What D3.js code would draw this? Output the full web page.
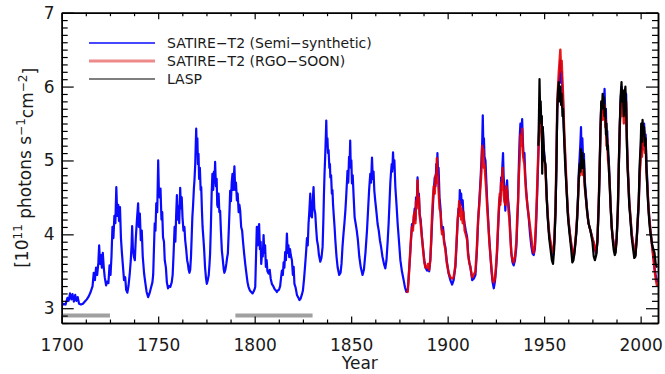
<!DOCTYPE html>
<html>
<head>
<meta charset="utf-8">
<script src="https://cdn.jsdelivr.net/npm/d3@7"></script>
<style>
  html, body { margin: 0; padding: 0; background: #fff; }
  svg { display: block; }
</style>
</head>
<body>
<div id="chart"></div>
<script>
// [year, 10^11 photons s^-1 cm^-2]
const semiSynthetic = [
  [1700,3.04],[1701,3.06],[1702,3.05],[1703,3.14],[1703.6,3.10],[1704.3,3.20],[1705,3.12],[1705.6,3.19],
  [1706.3,3.09],[1707,3.18],[1707.6,3.10],[1708.3,3.15],[1709,3.06],[1710,3.05],[1711,3.06],[1712,3.09],
  [1713,3.12],[1714,3.16],[1715,3.22],[1716,3.30],[1716.6,3.48],[1717.2,3.38],[1717.8,3.55],[1718.4,3.45],
  [1719,3.62],[1719.4,3.85],[1719.9,3.60],[1720.4,3.72],[1720.8,3.55],[1721.3,3.75],[1721.8,3.55],[1722.3,3.42],
  [1723,3.31],[1723.6,3.36],[1724.2,3.34],[1724.8,3.58],[1725.3,3.45],[1725.8,3.70],[1726.3,4.10],[1726.8,3.95],
  [1727.3,4.25],[1727.8,4.15],[1728.3,4.64],[1728.8,4.25],[1729.3,4.40],[1729.7,4.18],[1730.2,4.37],[1730.7,3.95],
  [1731.2,3.75],[1731.8,3.55],[1732.3,3.38],[1732.9,3.42],[1733.4,3.25],[1734,3.21],[1734.6,3.30],[1735.2,3.45],
  [1735.8,3.65],[1736.2,3.85],[1736.5,4.11],[1736.9,3.80],[1737.4,3.70],[1737.9,3.65],[1738.4,3.95],[1739,4.20],
  [1739.6,4.42],[1740,4.10],[1740.5,4.28],[1741,3.92],[1741.5,4.05],[1742,3.70],[1742.7,3.47],[1743.3,3.35],
  [1744,3.22],[1744.8,3.15],[1745.5,3.20],[1746.3,3.28],[1747,3.35],[1747.4,3.45],[1747.8,3.80],[1748.2,4.15],
  [1748.6,4.05],[1749,4.42],[1749.5,4.30],[1750,5.00],[1750.4,4.55],[1750.8,4.50],[1751.2,4.62],[1751.7,4.20],
  [1752.1,4.30],[1752.5,3.96],[1753,3.90],[1753.4,3.65],[1754,3.55],[1754.5,3.35],[1755.1,3.27],[1755.7,3.30],
  [1756.3,3.29],[1757,3.35],[1757.5,3.45],[1758,3.75],[1758.5,4.10],[1758.9,3.90],[1759.3,4.25],[1759.7,4.53],
  [1760.1,4.20],[1760.5,4.38],[1760.9,4.15],[1761.4,4.63],[1761.8,4.35],[1762.2,4.50],[1762.6,4.23],[1763.1,4.05],
  [1763.6,4.10],[1764,3.92],[1764.5,3.80],[1765,3.65],[1765.4,3.60],[1765.8,3.52],[1766.2,3.48],[1766.6,3.52],
  [1767,3.70],[1767.4,4.00],[1767.7,4.23],[1768.1,4.40],[1768.5,4.62],[1768.8,4.73],[1769.2,4.95],[1769.5,5.25],
  [1769.7,5.43],[1770,5.10],[1770.3,5.30],[1770.6,4.95],[1770.9,5.09],[1771.2,4.75],[1771.6,4.90],[1772,4.60],
  [1772.3,4.64],[1772.7,4.30],[1773,4.10],[1773.4,3.96],[1773.8,3.80],[1774.3,3.55],[1774.8,3.40],[1775.2,3.33],
  [1775.7,3.38],[1776.2,3.45],[1776.6,3.60],[1776.9,3.74],[1777.3,4.10],[1777.7,4.55],[1778.1,4.82],[1778.5,4.60],
  [1778.9,4.85],[1779.2,4.70],[1779.5,4.98],[1779.9,4.65],[1780.3,4.75],[1780.6,4.40],[1780.9,4.37],[1781.3,4.55],
  [1781.7,4.30],[1782.1,4.32],[1782.5,4.05],[1783,3.78],[1783.5,3.65],[1784,3.52],[1784.3,3.48],[1784.8,3.52],
  [1785.3,3.60],[1785.7,3.68],[1786.1,3.74],[1786.5,4.00],[1787,4.35],[1787.3,4.59],[1787.7,4.45],[1788.1,4.70],
  [1788.5,4.82],[1788.9,4.60],[1789.2,4.75],[1789.5,4.92],[1789.9,4.60],[1790.3,4.70],[1790.8,4.46],[1791.2,4.55],
  [1791.7,4.30],[1792.1,4.40],[1792.5,4.32],[1793,4.10],[1793.5,4.05],[1793.9,3.92],[1794.5,3.75],[1795.1,3.60],
  [1795.8,3.45],[1796.3,3.35],[1796.8,3.29],[1797.5,3.24],[1798.2,3.22],[1798.9,3.20],[1799.5,3.23],[1800,3.26],
  [1800.3,3.29],[1800.7,3.70],[1801.1,4.10],[1801.5,3.85],[1801.9,4.05],[1802.3,4.14],[1802.7,3.80],[1803.1,3.90],
  [1803.4,3.60],[1803.8,3.75],[1804.2,3.70],[1804.6,3.99],[1805,3.75],[1805.4,3.85],[1805.8,3.56],[1806.2,3.65],
  [1806.6,3.50],[1807.2,3.47],[1807.8,3.52],[1808.3,3.40],[1808.9,3.33],[1809.6,3.30],[1810.3,3.26],[1811,3.24],
  [1811.5,3.22],[1812,3.24],[1812.6,3.25],[1813.2,3.30],[1813.7,3.42],[1814.1,3.51],[1814.6,3.45],[1815,3.62],
  [1815.4,3.55],[1815.8,3.76],[1816.2,3.65],[1816.7,4.01],[1817.1,3.75],[1817.5,3.85],[1817.9,3.69],[1818.3,3.80],
  [1818.7,3.72],[1819.3,3.65],[1819.8,3.45],[1820.2,3.56],[1820.6,3.33],[1821.2,3.28],[1821.9,3.18],[1822.5,3.15],
  [1823.2,3.11],[1823.8,3.13],[1824.4,3.18],[1825,3.24],[1825.6,3.40],[1826.2,3.60],[1826.7,3.78],[1827.1,3.95],
  [1827.5,3.85],[1827.9,4.14],[1828.3,4.30],[1828.8,4.55],[1829.2,4.25],[1829.7,4.23],[1830.1,4.45],[1830.5,4.64],
  [1830.9,4.35],[1831.4,4.28],[1831.8,4.10],[1832.3,3.92],[1832.8,3.85],[1833.3,3.72],[1834,3.63],[1834.6,3.68],
  [1835.2,3.83],[1835.6,4.20],[1835.9,4.55],[1836.2,4.82],[1836.6,5.10],[1836.9,5.35],[1837.1,5.54],[1837.4,5.20],
  [1837.7,5.30],[1838,5.10],[1838.3,5.14],[1838.7,4.90],[1839,4.95],[1839.2,4.77],[1839.6,4.80],[1840,4.55],
  [1840.3,4.60],[1840.6,4.41],[1841,4.25],[1841.4,4.10],[1841.8,3.92],[1842.4,3.70],[1843,3.55],[1843.8,3.45],
  [1844.5,3.48],[1845,3.60],[1845.5,3.83],[1846,4.00],[1846.5,4.15],[1847,4.32],[1847.4,4.50],[1847.8,4.70],
  [1848.1,4.86],[1848.5,4.70],[1848.9,5.05],[1849.2,4.95],[1849.5,5.27],[1849.8,4.90],[1850.1,5.00],[1850.4,4.69],
  [1850.8,4.80],[1851.3,4.50],[1851.8,4.23],[1852.3,4.15],[1852.9,4.05],[1853.5,3.92],[1854.2,3.70],[1855,3.55],
  [1855.9,3.45],[1856.6,3.52],[1857.4,3.75],[1858.2,4.05],[1858.8,4.35],[1859.3,4.60],[1859.9,4.82],[1860.3,4.70],
  [1860.8,5.04],[1861.2,4.75],[1861.6,4.85],[1862,4.59],[1862.5,4.45],[1863.1,4.30],[1863.7,4.14],[1864.3,4.05],
  [1864.9,3.92],[1865.5,3.83],[1866.2,3.70],[1867,3.60],[1867.7,3.54],[1868.3,3.65],[1868.9,3.90],[1869.4,4.14],
  [1869.9,4.45],[1870.3,4.70],[1870.6,4.82],[1871,4.95],[1871.3,4.85],[1871.7,5.11],[1872,4.90],[1872.4,5.00],
  [1872.9,4.64],[1873.5,4.40],[1874.1,4.14],[1874.8,3.90],[1875.5,3.65],[1876.3,3.50],[1877.2,3.38],[1877.9,3.28],
  [1878.6,3.22],[1879.3,3.24],[1879.8,3.42],[1880.5,3.70],[1881,3.92],[1881.5,4.14],[1882,4.10],[1882.4,4.19],
  [1882.9,4.35],[1883.3,4.20],[1883.6,4.50],[1884,4.40],[1884.4,4.77],[1884.8,4.45],[1885.1,4.55],[1885.5,4.28],
  [1886,4.20],[1886.3,4.10],[1886.7,3.96],[1887.3,3.80],[1887.9,3.65],[1888.5,3.55],[1889.3,3.51],[1889.8,3.53],
  [1890.4,3.50],[1891,3.65],[1891.5,3.90],[1891.9,4.14],[1892.4,4.40],[1892.8,4.60],[1893.3,4.77],[1893.7,4.65],
  [1894.1,4.95],[1894.4,4.80],[1894.7,5.10],[1895,4.85],[1895.3,4.90],[1895.8,4.50],[1896.3,4.35],[1896.7,4.15],
  [1897.1,4.05],[1897.6,4.10],[1898.2,3.90],[1898.8,3.83],[1899.5,3.65],[1900.5,3.47],[1901.4,3.38],[1902.3,3.32],
  [1903.1,3.38],[1904,3.56],[1904.6,3.85],[1905.2,4.19],[1905.6,4.35],[1906,4.30],[1906.3,4.60],[1906.6,4.45],
  [1907,4.55],[1907.3,4.40],[1907.8,4.46],[1908.2,4.25],[1908.8,4.14],[1909.4,4.05],[1910.1,3.96],[1910.6,3.75],
  [1911.2,3.62],[1911.8,3.56],[1912.7,3.38],[1913.5,3.40],[1914.4,3.45],[1915.1,3.75],[1915.8,4.19],[1916.4,4.45],
  [1917,4.73],[1917.5,5.00],[1917.9,5.25],[1918.2,5.61],[1918.5,5.20],[1918.8,5.30],[1919.1,5.05],[1919.6,5.00],
  [1920,4.75],[1920.4,4.50],[1921,4.20],[1921.6,3.92],[1922.2,3.70],[1922.7,3.51],[1923.3,3.35],[1923.9,3.27],
  [1924.5,3.36],[1925,3.50],[1925.6,3.74],[1926,4.00],[1926.5,4.28],[1927,4.50],[1927.3,4.45],[1927.7,4.77],
  [1928,4.70],[1928.4,4.95],[1928.7,5.10],[1929,4.80],[1929.4,4.60],[1929.9,4.32],[1930.3,4.55],[1930.8,4.73],
  [1931.2,4.50],[1931.6,4.40],[1932,4.28],[1932.5,4.00],[1933,3.74],[1933.6,3.62],[1934.2,3.58],[1934.9,3.65],
  [1935.6,3.83],[1936,4.10],[1936.5,4.46],[1936.9,4.95],[1937.3,5.30],[1937.7,5.50],[1938.1,5.35],[1938.6,5.56],
  [1939,5.25],[1939.4,5.04],[1939.8,5.10],[1940.2,4.80],[1940.7,4.59],[1941.3,4.40],[1942,4.23],[1942.7,4.00],
  [1943.4,3.83],[1944,3.74],[1944.6,3.72],[1945.2,3.80],[1945.8,4.10],[1946.4,4.55],[1946.9,5.00],[1947.3,5.35],
  [1947.7,5.65],[1948.1,5.50],[1948.5,5.60],[1948.9,5.35],[1949.3,5.45],[1949.7,5.20],[1950.2,5.05],[1950.7,4.91],
  [1951.3,4.55],[1951.9,4.23],[1952.6,4.00],[1953.3,3.87],[1954,3.75],[1954.7,3.72],[1955.3,3.90],[1955.9,4.32],
  [1956.4,4.95],[1956.8,5.70],[1957.2,5.85],[1957.6,6.05],[1958,6.15],[1958.4,6.35],[1958.8,6.05],[1959.1,6.20],
  [1959.5,5.95],[1959.8,5.80],[1960.2,5.45],[1960.8,5.10],[1961.3,4.80],[1961.8,4.55],[1962.3,4.30],[1962.8,4.14],
  [1963.4,4.00],[1964,3.87],[1964.7,3.75],[1965.4,3.70],[1966,3.85],[1966.6,4.00],[1967.1,4.23],[1967.6,4.55],
  [1968,4.86],[1968.4,5.05],[1968.8,5.25],[1969.1,5.45],[1969.4,5.10],[1969.8,5.30],[1970.2,5.00],[1970.6,5.09],
  [1971,4.75],[1971.6,4.55],[1972.3,4.32],[1973,4.15],[1974,4.05],[1975,3.95],[1975.8,3.87],[1976.5,3.78],
  [1977,3.74],[1977.6,3.90],[1978.3,4.41],[1978.8,4.90],[1979.2,5.40],[1979.6,5.77],[1980,5.80],[1980.3,5.65],
  [1980.7,5.90],[1981,5.75],[1981.3,5.97],[1981.7,5.60],[1982,5.70],[1982.3,5.31],[1982.7,5.40],[1983.1,5.10],
  [1983.5,5.00],[1984,4.70],[1984.4,4.41],[1985,4.10],[1985.6,3.95],[1986.1,3.87],[1986.6,3.80],[1987,3.78],
  [1987.6,3.95],[1988.2,4.32],[1988.7,4.90],[1989.2,5.45],[1989.6,5.80],[1990.1,6.00],[1990.4,5.75],[1990.8,5.90],
  [1991.3,5.63],[1991.7,5.85],[1992.1,5.70],[1992.5,5.90],[1992.9,5.30],[1993.3,4.95],[1993.6,4.77],[1994.1,4.45],
  [1994.7,4.23],[1995.4,4.00],[1996.1,3.87],[1996.7,3.78],[1997.3,3.72],[1998,3.95],[1998.6,4.20],[1999,4.40],
  [1999.5,4.85],[2000,5.10],[2000.3,5.35],[2000.7,5.15],[2001,5.45],[2001.4,5.30],[2001.8,5.50],[2002.2,5.25],
  [2002.6,5.35],[2003,4.95],[2003.4,4.77],[2003.9,4.45],[2004.4,4.25],[2004.9,4.10],[2005.5,3.95],[2006,3.85],
  [2006.6,3.70],[2007.2,3.55],[2007.8,3.45],[2008.5,3.35]
];

const rgoSoon = [
  [1878.6,3.24],[1879.3,3.22],[1879.8,3.40],[1880.5,3.72],[1881,3.95],[1881.5,4.10],[1882,4.05],[1882.4,4.25],
  [1882.9,4.30],[1883.3,4.15],[1883.6,4.45],[1884,4.35],[1884.4,4.73],[1884.8,4.40],[1885.1,4.50],[1885.5,4.25],
  [1886,4.15],[1886.3,4.05],[1886.7,3.95],[1887.3,3.78],[1887.9,3.62],[1888.5,3.55],[1889.3,3.55],[1889.8,3.60],
  [1890.4,3.52],[1891,3.65],[1891.5,3.95],[1891.9,4.25],[1892.4,4.50],[1892.8,4.65],[1893.3,4.55],[1893.7,4.80],
  [1894.1,4.70],[1894.4,5.03],[1894.7,4.85],[1895,4.75],[1895.3,4.60],[1895.8,4.35],[1896.3,4.30],[1896.7,4.10],
  [1897.1,4.00],[1897.6,4.05],[1898.2,3.88],[1898.8,3.80],[1899.5,3.62],[1900.5,3.48],[1901.4,3.42],[1902.3,3.40],
  [1903.1,3.42],[1904,3.58],[1904.6,3.90],[1905.2,4.20],[1905.6,4.30],[1906,4.45],[1906.3,4.25],[1906.6,4.40],
  [1907,4.20],[1907.3,4.35],[1907.8,4.15],[1908.2,4.30],[1908.8,4.05],[1909.4,4.00],[1910.1,3.92],[1910.6,3.72],
  [1911.2,3.62],[1911.8,3.55],[1912.7,3.42],[1913.5,3.45],[1914.4,3.50],[1915.1,3.80],[1915.8,4.20],[1916.4,4.40],
  [1917,4.65],[1917.5,4.85],[1917.9,5.20],[1918.2,5.05],[1918.5,5.15],[1918.8,4.90],[1919.1,4.95],[1919.6,4.75],
  [1920,4.60],[1920.4,4.40],[1921,4.15],[1921.6,3.90],[1922.2,3.70],[1922.7,3.55],[1923.3,3.38],[1923.9,3.35],
  [1924.5,3.40],[1925,3.55],[1925.6,3.80],[1926,4.05],[1926.5,4.35],[1927,4.55],[1927.3,4.40],[1927.7,4.70],
  [1928,4.60],[1928.4,4.90],[1928.7,4.70],[1929,4.55],[1929.4,4.45],[1929.9,4.40],[1930.3,4.65],[1930.8,4.60],
  [1931.2,4.45],[1931.6,4.30],[1932,4.20],[1932.5,3.95],[1933,3.75],[1933.6,3.65],[1934.2,3.62],[1934.9,3.70],
  [1935.6,3.90],[1936,4.20],[1936.5,4.45],[1936.9,4.80],[1937.3,5.00],[1937.7,5.35],[1938.1,5.20],[1938.6,5.43],
  [1939,5.10],[1939.4,5.00],[1939.8,4.95],[1940.2,4.75],[1940.7,4.55],[1941.3,4.40],[1942,4.25],[1942.7,4.10],
  [1943.4,3.95],[1944,3.80],[1944.6,3.75],[1945.2,3.85],[1945.8,4.20],[1946.4,4.65],[1946.9,5.05],[1947.3,5.30],
  [1947.7,5.55],[1948.1,5.40],[1948.5,5.50],[1948.9,5.25],[1949.3,5.35],[1949.7,5.10],[1950.2,5.00],[1950.7,4.85],
  [1951.3,4.50],[1951.9,4.25],[1952.6,4.02],[1953.3,3.90],[1954,3.78],[1954.7,3.75],[1955.3,3.95],[1955.9,4.40],
  [1956.4,5.10],[1956.8,5.80],[1957.2,6.00],[1957.6,6.20],[1958,6.35],[1958.4,6.50],[1958.8,6.20],[1959.1,6.35],
  [1959.5,6.05],[1959.8,5.90],[1960.2,5.55],[1960.8,5.15],[1961.3,4.85],[1961.8,4.55],[1962.3,4.30],[1962.8,4.15],
  [1963.4,4.00],[1964,3.88],[1964.7,3.75],[1965.4,3.70],[1966,3.85],[1966.6,4.05],[1967.1,4.25],[1967.6,4.50],
  [1968,4.75],[1968.4,4.90],[1968.8,4.80],[1969.1,5.00],[1969.4,4.85],[1969.8,4.95],[1970.2,4.80],[1970.6,4.90],
  [1971,4.65],[1971.6,4.50],[1972.3,4.30],[1973,4.15],[1974,4.05],[1975,3.95],[1975.8,3.88],[1976.5,3.80],
  [1977,3.75],[1977.6,3.92],[1978.3,4.45],[1978.8,4.95],[1979.2,5.40],[1979.6,5.70],[1980,5.80],[1980.3,5.55],
  [1980.7,5.80],[1981,5.60],[1981.3,5.75],[1981.7,5.45],[1982,5.55],[1982.3,5.20],[1982.7,5.30],[1983.1,5.00],
  [1983.5,4.95],[1984,4.65],[1984.4,4.40],[1985,4.10],[1985.6,3.95],[1986.1,3.85],[1986.6,3.78],[1987,3.76],
  [1987.6,3.95],[1988.2,4.35],[1988.7,4.95],[1989.2,5.45],[1989.6,5.70],[1990.1,5.90],[1990.4,5.60],[1990.8,5.85],
  [1991.3,5.50],[1991.7,5.75],[1992.1,5.55],[1992.5,5.80],[1992.9,5.25],[1993.3,4.90],[1993.6,4.75],[1994.1,4.45],
  [1994.7,4.25],[1995.4,4.00],[1996.1,3.88],[1996.7,3.78],[1997.3,3.72],[1998,3.95],[1998.6,4.25],[1999,4.40],
  [1999.5,4.80],[2000,5.00],[2000.3,5.25],[2000.7,5.05],[2001,5.35],[2001.4,5.15],[2001.8,5.40],[2002.2,5.10],
  [2002.6,5.25],[2003,4.85],[2003.4,4.70],[2003.9,4.45],[2004.4,4.25],[2004.9,4.10],[2005.5,3.95],[2006,3.82],
  [2006.6,3.68],[2007.2,3.52],[2007.8,3.40],[2008.5,3.30]
];

const lasp = [
  [1947,5.20],[1947.3,5.60],[1947.6,6.10],[1947.9,5.70],[1948.2,5.80],[1948.5,5.50],[1948.8,5.60],[1949,4.82],
  [1949.3,5.45],[1949.7,5.20],[1950.2,5.00],[1950.7,4.95],[1951.3,4.50],[1951.9,4.20],[1952.6,3.95],[1953.3,3.80],
  [1954,3.65],[1954.6,3.60],[1955.2,3.80],[1955.9,4.30],[1956.4,5.00],[1956.8,5.70],[1957.2,5.95],[1957.6,6.06],
  [1958,5.80],[1958.4,6.00],[1958.8,5.75],[1959.1,5.90],[1959.5,5.60],[1959.8,5.70],[1960.2,5.40],[1960.8,5.00],
  [1961.3,4.75],[1961.8,4.50],[1962.3,4.25],[1962.8,4.10],[1963.4,3.95],[1964,3.80],[1964.6,3.62],[1965.2,3.65],
  [1966,3.82],[1966.6,4.00],[1967.1,4.20],[1967.6,4.50],[1968,4.80],[1968.4,4.95],[1968.8,4.85],[1969.1,5.15],
  [1969.4,4.90],[1969.8,5.10],[1970.2,4.90],[1970.6,5.00],[1971,4.70],[1971.6,4.50],[1972.3,4.30],[1973,4.15],
  [1974,4.05],[1975,3.90],[1975.7,3.70],[1976.3,3.65],[1977,3.72],[1977.6,3.90],[1978.3,4.40],[1978.8,4.95],
  [1979.2,5.45],[1979.6,5.80],[1980,5.70],[1980.3,5.90],[1980.7,5.75],[1981,5.85],[1981.3,5.60],[1981.7,5.70],
  [1982,5.35],[1982.3,5.50],[1982.7,5.15],[1983.1,5.20],[1983.5,4.90],[1984,4.65],[1984.4,4.40],[1985,4.10],
  [1985.6,3.90],[1986.1,3.78],[1986.6,3.72],[1987,3.75],[1987.6,3.95],[1988.2,4.35],[1988.7,4.95],[1989.2,5.50],
  [1989.6,5.85],[1990.1,6.06],[1990.4,5.80],[1990.8,5.95],[1991.3,5.60],[1991.7,5.90],[1992.1,6.00],[1992.5,5.70],
  [1992.9,5.20],[1993.3,4.85],[1993.6,4.70],[1994.1,4.40],[1994.7,4.20],[1995.4,3.95],[1996.1,3.80],[1996.7,3.68],
  [1997.3,3.70],[1998,3.95],[1998.6,4.25],[1999,4.45],[1999.5,4.95],[2000,5.20],[2000.3,5.50],[2000.7,5.25],
  [2001,5.55],[2001.4,5.35],[2001.8,5.45],[2002.2,5.20],[2002.6,5.30],[2003,4.90],[2003.4,4.65],[2003.9,4.40],
  [2004.4,4.20],[2004.9,4.05],[2005.5,3.95],[2006,3.85],[2006.6,3.80],[2007.2,3.75],[2007.8,3.60],[2008.5,3.55]
];

// grey bars: Maunder end and Dalton minimum
const minimaPeriods = [[1700, 1725], [1790, 1830]];
const minimaLevel = 2.9;

const xTicks = [1700, 1750, 1800, 1850, 1900, 1950, 2000];
const yTicks = [3, 4, 5, 6, 7];
const legendLabels = ['SATIRE\u2212T2 (Semi\u2212synthetic)', 'SATIRE\u2212T2 (RGO\u2212SOON)', 'LASP'];

const width = 665;
const height = 374;
const margin = { top: 12.7, right: 7, bottom: 51, left: 61.7 };
const font = "'DejaVu Sans', sans-serif";

const x = d3.scaleLinear().domain([1700, 2009]).range([margin.left, width - margin.right]);
const y = d3.scaleLinear().domain([2.8, 7]).range([height - margin.bottom, margin.top]);

const xMinor = d3.range(1700, 2009.01, 12.5).filter(v => !xTicks.includes(v));
const yMinor = d3.range(28, 71).map(v => v / 10).filter(v => !yTicks.includes(v));

const svg = d3.select('#chart')
  .append('svg')
  .attr('width', width)
  .attr('height', height)
  .attr('viewBox', `0 0 ${width} ${height}`);

svg.append('defs').append('clipPath').attr('id', 'plot')
  .append('rect')
  .attr('x', margin.left).attr('y', margin.top)
  .attr('width', width - margin.left - margin.right)
  .attr('height', height - margin.top - margin.bottom);

const line = d3.line()
  .x(d => x(d[0]))
  .y(d => y(d[1]))
  .curve(d3.curveLinear);

const plot = svg.append('g').attr('clip-path', 'url(#plot)');

plot.selectAll('line.minima')
  .data(minimaPeriods)
  .join('line')
  .attr('class', 'minima')
  .attr('x1', d => x(d[0]))
  .attr('x2', d => x(d[1]))
  .attr('y1', y(minimaLevel))
  .attr('y2', y(minimaLevel))
  .attr('stroke', '#a0a0a0')
  .attr('stroke-width', 4);

const series = [
  { data: semiSynthetic, color: '#0a0aff', w: 2.2, op: 1 },
  { data: rgoSoon, color: '#e80000', w: 2.4, op: 0.9 },
  { data: lasp, color: '#000000', w: 2.2, op: 1 }
];

plot.selectAll('path.series')
  .data(series)
  .join('path')
  .attr('class', 'series')
  .attr('fill', 'none')
  .attr('stroke', d => d.color)
  .attr('stroke-width', d => d.w)
  .attr('stroke-opacity', d => d.op)
  .attr('stroke-linejoin', 'round')
  .attr('d', d => line(d.data));

// axes, IDL style: ticks inward on all four sides
function styleAxis(g) {
  g.select('.domain').attr('stroke', '#000').attr('stroke-width', 1.5);
  g.selectAll('.tick line').attr('stroke', '#000').attr('stroke-width', 1.2);
  g.selectAll('text').attr('font-family', font).attr('font-size', 17).attr('fill', '#1a1a1a');
}

const bottom = height - margin.bottom;
const right = width - margin.right;

svg.append('g')
  .attr('transform', `translate(0,${bottom})`)
  .call(d3.axisBottom(x).tickValues(xTicks).tickFormat(d3.format('d'))
    .tickSizeInner(-6.5).tickSizeOuter(0).tickPadding(16))
  .call(styleAxis);
svg.append('g')
  .attr('transform', `translate(0,${bottom})`)
  .call(d3.axisBottom(x).tickValues(xMinor).tickFormat('').tickSizeInner(-3.5).tickSizeOuter(0))
  .call(styleAxis);
svg.append('g')
  .attr('transform', `translate(0,${margin.top})`)
  .call(d3.axisTop(x).tickValues(xTicks).tickFormat('').tickSizeInner(-6.5).tickSizeOuter(0))
  .call(styleAxis);
svg.append('g')
  .attr('transform', `translate(0,${margin.top})`)
  .call(d3.axisTop(x).tickValues(xMinor).tickFormat('').tickSizeInner(-3.5).tickSizeOuter(0))
  .call(styleAxis);

svg.append('g')
  .attr('transform', `translate(${margin.left},0)`)
  .call(d3.axisLeft(y).tickValues(yTicks).tickFormat(d3.format('d'))
    .tickSizeInner(-12).tickSizeOuter(0).tickPadding(7))
  .call(styleAxis);
svg.append('g')
  .attr('transform', `translate(${margin.left},0)`)
  .call(d3.axisLeft(y).tickValues(yMinor).tickFormat('').tickSizeInner(-6).tickSizeOuter(0))
  .call(styleAxis);
svg.append('g')
  .attr('transform', `translate(${right},0)`)
  .call(d3.axisRight(y).tickValues(yTicks).tickFormat('').tickSizeInner(-12).tickSizeOuter(0))
  .call(styleAxis);
svg.append('g')
  .attr('transform', `translate(${right},0)`)
  .call(d3.axisRight(y).tickValues(yMinor).tickFormat('').tickSizeInner(-6).tickSizeOuter(0))
  .call(styleAxis);

// axis titles
svg.append('text')
  .attr('x', (margin.left + right) / 2)
  .attr('y', 369)
  .attr('text-anchor', 'middle')
  .attr('font-family', font)
  .attr('font-size', 17)
  .attr('fill', '#1a1a1a')
  .text('Year');

const yTitle = svg.append('text')
  .attr('transform', `translate(28,${(margin.top + bottom) / 2}) rotate(-90)`)
  .attr('text-anchor', 'middle')
  .attr('font-family', font)
  .attr('font-size', 17)
  .attr('fill', '#1a1a1a');
yTitle.append('tspan').text('[10');
yTitle.append('tspan').attr('dy', '-0.5em').attr('font-size', 12).text('11');
yTitle.append('tspan').attr('dy', '0.5em').text(' photons s');
yTitle.append('tspan').attr('dy', '-0.5em').attr('font-size', 12).text('\u22121');
yTitle.append('tspan').attr('dy', '0.5em').text('cm');
yTitle.append('tspan').attr('dy', '-0.5em').attr('font-size', 12).text('\u22122');
yTitle.append('tspan').attr('dy', '0.5em').text(']');

// legend
const legendStyle = [
  { color: '#0a0aff', w: 1.5 },
  { color: '#ee8a8a', w: 3 },
  { color: '#000000', w: 1.2 }
];
const legend = svg.append('g').attr('transform', 'translate(89,43)');
const rows = legend.selectAll('g')
  .data(legendLabels)
  .join('g')
  .attr('transform', (d, i) => `translate(0,${i * 18})`);
rows.append('line')
  .attr('x1', 0).attr('x2', 66)
  .attr('stroke', (d, i) => legendStyle[i].color)
  .attr('stroke-width', (d, i) => legendStyle[i].w);
rows.append('text')
  .attr('x', 78)
  .attr('dy', '0.36em')
  .attr('font-family', font)
  .attr('font-size', 14)
  .attr('fill', '#1a1a1a')
  .text(d => d);
</script>
</body>
</html>
